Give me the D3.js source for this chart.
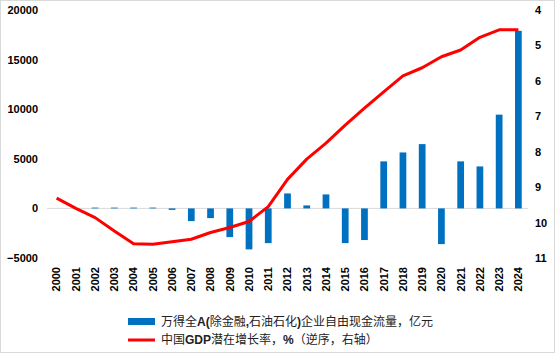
<!DOCTYPE html>
<html>
<head>
<meta charset="utf-8">
<script src="https://cdn.jsdelivr.net/npm/d3@7"></script>
<style>
  html, body { margin: 0; padding: 0; background: #fff; }
  svg { display: block; }
  text { font-family: Arial, "Liberation Sans", "Noto Sans CJK SC", sans-serif; fill: #000; }
</style>
</head>
<body>
<div id="chart"></div>
<script>
// Years on the x axis
const years = d3.range(2000, 2025).map(String);

// Free cash flow of Wind All-A (ex financials, petrochem), 100m yuan
const fcf = [0, 0, 80, 80, 80, 80, -150, -1280, -980, -2890, -4130, -3500,
  1510, 300, 1410, -3500, -3190, 4740, 5640, 6480, -3600, 4740, 4230, 9450, 17900];

// China potential GDP growth, % (inverted, right axis)
const gdpPotential = [9.31, 9.6, 9.86, 10.24, 10.6, 10.61, 10.54, 10.47, 10.28, 10.14, 9.97, 9.55,
  8.78, 8.21, 7.76, 7.25, 6.77, 6.31, 5.86, 5.63, 5.32, 5.13, 4.77, 4.56, 4.56];

const leftTicks = [-5000, 0, 5000, 10000, 15000, 20000];
const rightTicks = [4, 5, 6, 7, 8, 9, 10, 11];

const width = 555, height = 354;
const plot = { left: 47, right: 528, top: 10, bottom: 258 };

const svg = d3.select('#chart').append('svg')
  .attr('width', width)
  .attr('height', height);

// Outer frame
svg.append('rect')
  .attr('x', 0.5).attr('y', 0.5)
  .attr('width', width - 1).attr('height', height - 2)
  .attr('fill', 'none')
  .attr('stroke', '#d9d9d9');

const x = d3.scaleBand()
  .domain(years)
  .range([plot.left, plot.right])
  .paddingInner(0.65)
  .paddingOuter(0.325);

const xPoint = d3.scaleBand().domain(years).range([plot.left, plot.right]);

const yLeft = d3.scaleLinear()
  .domain([-5000, 20000])
  .range([plot.bottom, plot.top]);

const yRight = d3.scaleLinear()
  .domain([4, 11])
  .range([plot.top, plot.bottom]);

// Zero line
svg.append('line')
  .attr('x1', plot.left).attr('x2', plot.right)
  .attr('y1', yLeft(0)).attr('y2', yLeft(0))
  .attr('stroke', '#d9d9d9')
  .attr('stroke-width', 1);

// Bars
svg.append('g').selectAll('rect')
  .data(years.map((y, i) => ({ year: y, v: fcf[i] })))
  .join('rect')
  .attr('x', d => x(d.year))
  .attr('width', x.bandwidth())
  .attr('y', d => yLeft(Math.max(0, d.v)))
  .attr('height', d => Math.abs(yLeft(d.v) - yLeft(0)))
  .attr('fill', '#0070c0');

// Line
const line = d3.line()
  .x(d => xPoint(d.year) + xPoint.bandwidth() / 2)
  .y(d => yRight(d.v));

svg.append('path')
  .datum(years.map((y, i) => ({ year: y, v: gdpPotential[i] })))
  .attr('d', line)
  .attr('fill', 'none')
  .attr('stroke', '#ff0000')
  .attr('stroke-width', 3)
  .attr('stroke-linejoin', 'round');

// Left axis
const axL = svg.append('g')
  .attr('transform', `translate(${plot.left},0)`)
  .call(d3.axisLeft(yLeft).tickValues(leftTicks).tickSize(0).tickPadding(9).tickFormat(d3.format('d')));
axL.select('.domain').remove();
axL.selectAll('text').style('font-size', '11px').style('font-weight', 'bold');

// Right axis
const axR = svg.append('g')
  .attr('transform', `translate(${plot.right},0)`)
  .call(d3.axisRight(yRight).tickValues(rightTicks).tickSize(0).tickPadding(7).tickFormat(d3.format('d')));
axR.select('.domain').remove();
axR.selectAll('text').style('font-size', '11px').style('font-weight', 'bold');

// X axis
const axX = svg.append('g')
  .attr('transform', `translate(0,${plot.bottom})`)
  .call(d3.axisBottom(xPoint).tickSize(0).tickPadding(0));
axX.select('.domain').remove();
axX.selectAll('text')
  .style('font-size', '11px').style('font-weight', 'bold')
  .attr('text-anchor', 'end')
  .attr('transform', 'rotate(-90)')
  .attr('x', -9).attr('y', 0).attr('dy', '0.35em');

// Legend
const legend = svg.append('g').attr('transform', 'translate(128,0)');
legend.append('rect')
  .attr('x', 0).attr('y', 318).attr('width', 27).attr('height', 7)
  .attr('fill', '#0070c0');
legend.append('line')
  .attr('x1', 0).attr('x2', 27).attr('y1', 340).attr('y2', 340)
  .attr('stroke', '#ff0000').attr('stroke-width', 3);

const legendItems = [
  [['万得全', false], ['A(', true], ['除金融', false], [',', true], ['石油石化', false], [')', true], ['企业自由现金流量，亿元', false]],
  [['中国', false], ['GDP', true], ['潜在增长率，', false], ['%', true], ['（逆序，右轴）', false]]
];
legendItems.forEach((parts, i) => {
  const t = legend.append('text')
    .attr('x', 33).attr('y', 322 + i * 18)
    .attr('dy', '0.35em')
    .style('font-size', '12px')
    .style('fill', '#222');
  parts.forEach(([s, b]) => {
    t.append('tspan').text(s).style('font-weight', b ? 'bold' : 'normal');
  });
});
</script>
</body>
</html>
